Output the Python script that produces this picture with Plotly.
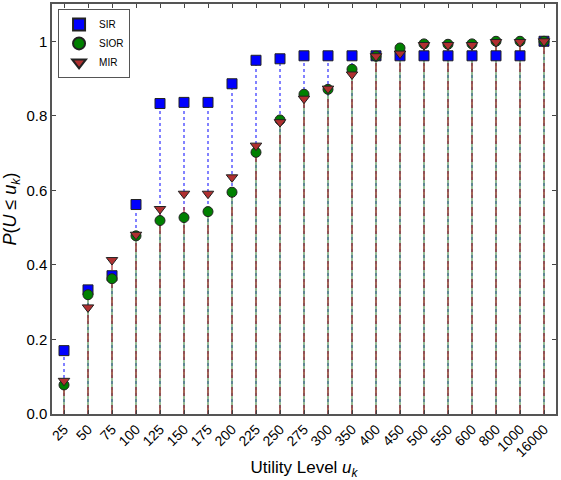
import plotly.graph_objects as go

categories = ["25", "50", "75", "100", "125", "150", "175", "200", "225", "250", "275",
              "300", "350", "400", "450", "500", "550", "600", "800", "1000", "16000"]
sir = [0.170, 0.333, 0.371, 0.562, 0.833, 0.836, 0.836, 0.886, 0.949, 0.953, 0.961,
       0.961, 0.961, 0.961, 0.961, 0.961, 0.961, 0.961, 0.961, 0.961, 1.0]
sior = [0.078, 0.320, 0.363, 0.478, 0.519, 0.527, 0.543, 0.595, 0.702, 0.789, 0.858,
        0.871, 0.925, 0.960, 0.982, 0.993, 0.992, 0.993, 1.0, 1.0, 1.0]
mir = [0.089, 0.286, 0.413, 0.481, 0.550, 0.591, 0.591, 0.635, 0.720, 0.783, 0.846,
       0.873, 0.911, 0.960, 0.967, 0.990, 0.990, 0.990, 0.998, 0.998, 1.0]
y_ticks = [0, 0.2, 0.4, 0.6, 0.8, 1.0]
y_tick_text = ["0.0", "0.2", "0.4", "0.6", "0.8", "1"]

xs = list(range(1, len(categories) + 1))

series = [
    ("SIR", sir, "#0000ff", "square", "dot", 1.3, "#4040ff"),
    ("SIOR", sior, "#008000", "circle", "solid", 1.2, "#4a8a4a"),
    ("MIR", mir, "#b03030", "triangle-down", "dash", 1.2, "#b03030"),
]

fig = go.Figure()

for name, vals, color, sym, dash, w, lc in series:
    sx, sy = [], []
    for x, v in zip(xs, vals):
        sx += [x, x, None]
        sy += [0, v, None]
    fig.add_trace(go.Scatter(x=sx, y=sy, mode="lines", line=dict(color=lc, width=w, dash=dash),
                             showlegend=False, hoverinfo="skip"))

for name, vals, color, sym, dash, w, lc in series:
    fig.add_trace(go.Scatter(x=xs, y=vals, mode="markers", name=name,
                             marker=dict(symbol=sym, size=10, color=color,
                                         line=dict(color="#222222", width=1))))

fig.update_layout(
    width=561, height=480,
    margin=dict(l=52, r=5, t=4, b=66),
    paper_bgcolor="white", plot_bgcolor="white",
    font=dict(family="Liberation Sans, Arial, sans-serif", size=13, color="black"),
    legend=dict(x=0.012, y=0.988, xanchor="left", yanchor="top",
                bgcolor="white", bordercolor="#555555", borderwidth=1,
                font=dict(size=10), itemsizing="constant", tracegroupgap=0,
                itemwidth=30),
    xaxis=dict(range=[0.5, 21.5], tickmode="array", tickvals=xs, ticktext=categories,
               tickangle=-45, ticks="inside", ticklen=4, showline=True, linecolor="#555555",
               linewidth=1.5, mirror="ticks", showgrid=False, zeroline=False,
               tickfont=dict(size=14), automargin=False,
               title=dict(text="Utility Level <i>u</i><sub><i>k</i></sub>", font=dict(size=17), standoff=6)),
    yaxis=dict(range=[0, 1.1], tickmode="array", tickvals=y_ticks,
               ticktext=y_tick_text,
               ticks="inside", ticklen=4, showline=True, linecolor="#555555", linewidth=1.5,
               mirror="ticks", showgrid=False, zeroline=False, tickfont=dict(size=15),
               automargin=False,
               title=dict(text="<i>P</i>(<i>U</i> ≤ <i>u</i><sub><i>k</i></sub>)", font=dict(size=18), standoff=6)),
)

fig.write_html("out.html", config={"displayModeBar": False},
               post_script="document.body.style.margin='0px';")
